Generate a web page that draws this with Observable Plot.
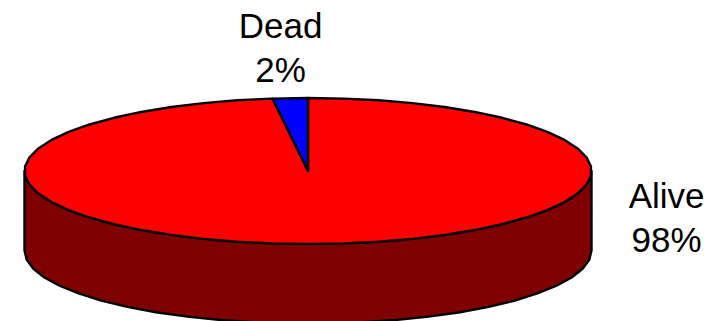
<!DOCTYPE html>
<html>
<head>
<meta charset="utf-8">
<style>
  html, body { margin: 0; padding: 0; background: #fff; }
  svg { display: block; }
</style>
<script src="https://cdn.jsdelivr.net/npm/d3@7"></script>
<script src="https://cdn.jsdelivr.net/npm/@observablehq/plot@0.6"></script>
</head>
<body>
<div id="chart"></div>
<script>
// Survival outcome shares, in percent
const categories = ["Alive", "Dead"];
const shares = [98, 2];
const sliceColors = ["#ff0000", "#0000ff"];
const sideColor = "#7f0000";

// Pie thickness, in units of the disc's vertical radius
const thickness = 1.09;
const stepDegrees = 7.2;

// A point on the disc rim, with the angle running clockwise from the top
const rim = (deg, drop = 0) => {
  const t = (deg * Math.PI) / 180;
  return {x: Math.sin(t), y: Math.cos(t) - drop};
};

const arcAngles = (from, to) => {
  const out = d3.range(from, to - 0.01, stepDegrees);
  out.push(to);
  return out;
};

// Each slice outline: centre, then around its arc
let running = 0;
const slices = categories.flatMap((name, i) => {
  const from = (running / 100) * 360;
  running += shares[i];
  const to = (running / 100) * 360;
  return [{x: 0, y: 0, name}, ...arcAngles(from, to).map((a) => ({...rim(a), name}))];
});

// The visible wall: the front half of the rim, and the same arc one thickness lower
const front = arcAngles(90, 270);
const wall = [...front.map((a) => rim(a)), ...front.slice().reverse().map((a) => rim(a, thickness))];

const labels = categories.map((name, i) => `${name}\n${shares[i]}%`);
const labelFont = {fontFamily: "Liberation Sans, Arial, sans-serif", fontSize: 35, lineHeight: 1.26, fill: "#000"};

const chart = Plot.plot({
  width: 716,
  height: 321,
  margin: 0,
  x: {domain: [-1, 1], range: [24, 591], axis: null},
  y: {domain: [-1, 1], range: [243.5, 97.5], axis: null},
  color: {domain: categories, range: sliceColors},
  marks: [
    Plot.line(wall, {
      x: "x", y: "y", curve: "linear-closed",
      fill: sideColor, stroke: "#000", strokeWidth: 2.4, strokeLinejoin: "round"
    }),
    Plot.line(slices, {
      x: "x", y: "y", z: "name", curve: "linear-closed",
      fill: "name", stroke: "#000", strokeWidth: 2.4, strokeLinejoin: "round"
    }),
    Plot.text([labels[1]], {x: [-0.097], y: [1.0], dy: -52, text: (d) => d, ...labelFont}),
    Plot.text([labels[0]], {x: [1.265], y: [-0.64], dy: -2, text: (d) => d, ...labelFont})
  ]
});
document.getElementById("chart").append(chart);
</script>
</body>
</html>
